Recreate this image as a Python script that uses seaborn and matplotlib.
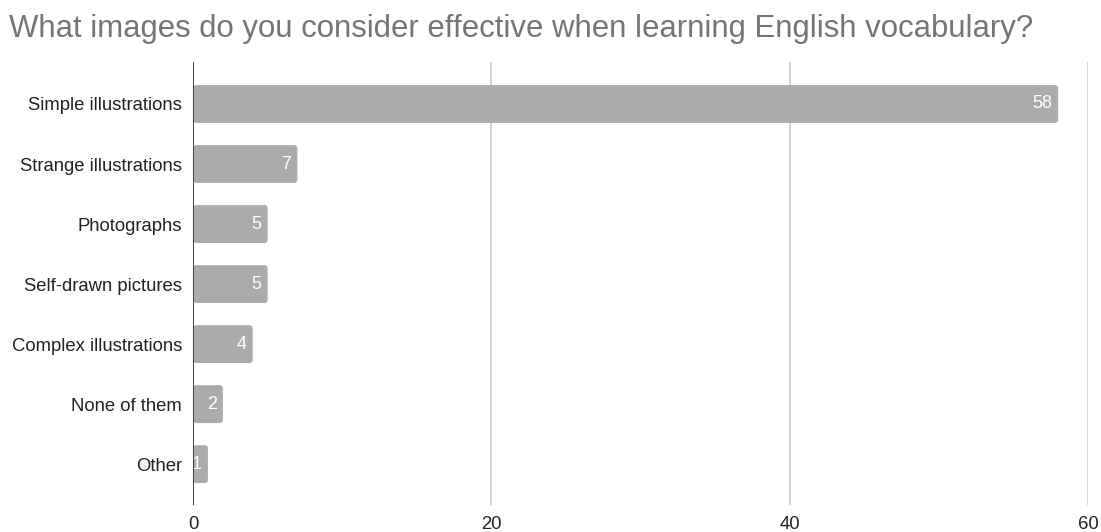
import matplotlib
matplotlib.use("Agg")
import matplotlib.pyplot as plt
from matplotlib.patches import FancyBboxPatch
import seaborn as sns
import pandas as pd

categories = ["Simple illustrations", "Strange illustrations", "Photographs",
              "Self-drawn pictures", "Complex illustrations", "None of them", "Other"]
values = [58, 7, 5, 5, 4, 2, 1]
x_ticks = [0, 20, 40, 60]
title = "What images do you consider effective when learning English vocabulary?"

sns.set_theme(style="white")
plt.rcParams['font.family'] = ['Liberation Sans', 'DejaVu Sans']

df = pd.DataFrame({"category": categories, "value": values})

fig = plt.figure(figsize=(11.01, 5.32), dpi=100)
ax = fig.add_axes([0.1753, 0.0508, 0.8129, 0.8327])

sns.barplot(data=df, y="category", x="value", orient="h", color="#ababab",
            saturation=1, width=0.63, ax=ax, zorder=3)

# give bars slightly rounded corners
for p in list(ax.patches):
    x0, y0 = p.get_x(), p.get_y()
    w, h = p.get_width(), p.get_height()
    fc = p.get_facecolor()
    p.set_visible(False)
    rp = FancyBboxPatch((x0, y0), w, h,
                        boxstyle="round,pad=0,rounding_size=0.2",
                        mutation_aspect=0.25, facecolor=fc, edgecolor="none",
                        zorder=3)
    ax.add_patch(rp)

for i, v in enumerate(values):
    ax.text(v - 0.4, i, str(v), ha="right", va="center", color="white",
            fontsize=13, zorder=4)

ax.set_xlim(0, 60)
ax.set_ylim(6.68, -0.7)
ax.set_xticks(x_ticks)
ax.set_xticklabels([str(t) for t in x_ticks])
ax.set_xlabel("")
ax.set_ylabel("")
for t in x_ticks[1:]:
    ax.axvline(t, color="#cccccc", lw=1.2, zorder=1)
ax.axvline(0, color="#333333", lw=1.3, zorder=5)
for s in ax.spines.values():
    s.set_visible(False)
ax.tick_params(axis="both", length=0, labelsize=13.3, colors="#222222")
ax.tick_params(axis="x", pad=8)
ax.tick_params(axis="y", pad=8)

fig.text(0.008, 0.930, title, fontsize=22.4, color="#757575", ha="left", va="baseline")

fig.savefig("out.png", dpi=100)
